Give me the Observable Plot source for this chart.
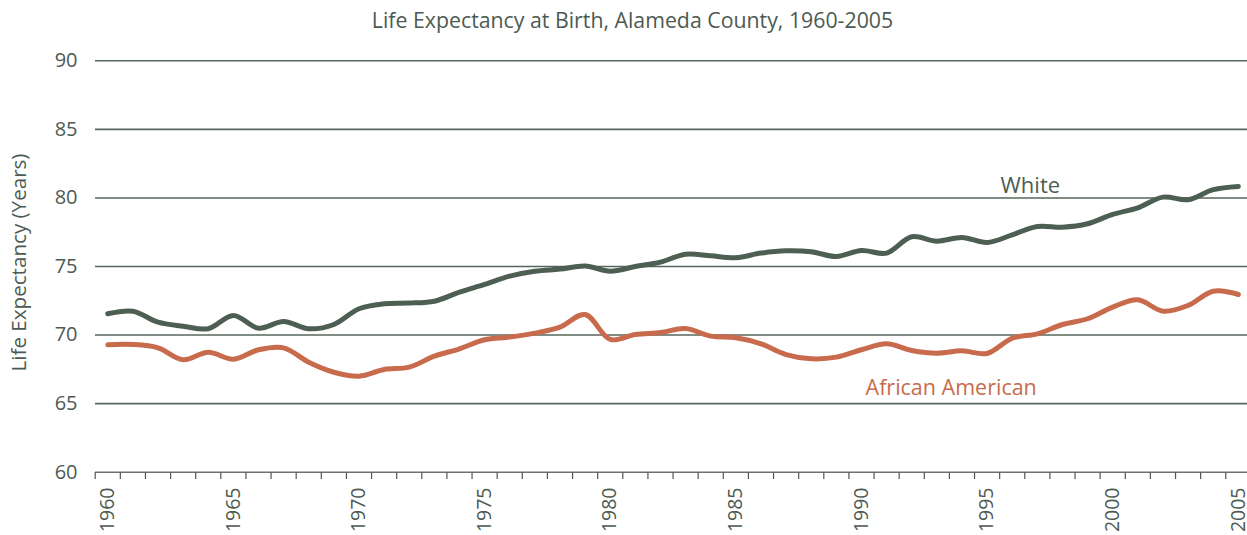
<!DOCTYPE html>
<html>
<head>
<meta charset="utf-8">
<script src="https://cdn.jsdelivr.net/npm/d3@7"></script>
<script src="https://cdn.jsdelivr.net/npm/@observablehq/plot@0.6"></script>
<style>
  html, body { margin: 0; padding: 0; background: #fff; overflow: hidden; }
  #title { height: 40px; line-height: 40px; text-align: center; font-family: "Open Sans", sans-serif; font-size: 21.3px; color: #4d5a52; padding-left: 18px; white-space: nowrap; }
  #chart svg { display: block; overflow: visible; }
</style>
</head>
<body>
<div id="title">Life Expectancy at Birth, Alameda County, 1960-2005</div>
<div id="chart"></div>
<script>
const years = [1960,1961,1962,1963,1964,1965,1966,1967,1968,1969,1970,1971,1972,1973,1974,1975,1976,1977,1978,1979,1980,1981,1982,1983,1984,1985,1986,1987,1988,1989,1990,1991,1992,1993,1994,1995,1996,1997,1998,1999,2000,2001,2002,2003,2004,2005];
const white = [71.55,71.74,70.94,70.65,70.46,71.43,70.5,70.99,70.46,70.77,71.92,72.28,72.33,72.47,73.13,73.69,74.3,74.66,74.81,75.03,74.66,75.0,75.32,75.9,75.78,75.64,75.98,76.15,76.08,75.73,76.17,75.98,77.17,76.85,77.12,76.75,77.31,77.92,77.87,78.12,78.8,79.28,80.06,79.87,80.6,80.84];
const africanAmerican = [69.29,69.31,69.07,68.2,68.75,68.24,68.93,69.07,68.02,67.29,67.0,67.49,67.66,68.46,69.0,69.66,69.85,70.14,70.58,71.5,69.68,70.04,70.19,70.48,69.92,69.8,69.36,68.58,68.27,68.39,68.93,69.36,68.88,68.68,68.85,68.66,69.77,70.09,70.77,71.19,72.04,72.57,71.74,72.16,73.2,72.96];
const yTicks = [60,65,70,75,80,85,90];
const gridValues = [65,70,75,80,85,90];
const xLabelYears = [1960,1965,1970,1975,1980,1985,1990,1995,2000,2005];
const seriesNames = ["White","African American"];

const cWhite = "#4d5e52";
const cAA = "#c76b4c";
const textColor = "#4d5a52";

const rows = [];
years.forEach((yr, i) => {
  rows.push({year: yr, value: white[i], series: seriesNames[0]});
  rows.push({year: yr, value: africanAmerican[i], series: seriesNames[1]});
});
const boundaries = years.map(y => y - 0.5);

const chart = Plot.plot({
  width: 1247,
  height: 495,
  marginLeft: 95,
  marginRight: 0,
  marginTop: 20,
  marginBottom: 63,
  style: {fontFamily: "'Open Sans', sans-serif", color: textColor, background: "#fff"},
  x: {domain: [1959.5, 2005.5], range: [94.7, 1250.4], label: null},
  y: {domain: [60, 90], range: [431.7, 20.3], label: null},
  marks: [
    Plot.ruleY(gridValues, {stroke: "#56665b", strokeWidth: 1.6}),
    Plot.ruleY([60], {stroke: "#707070", strokeWidth: 1.4}),
    Plot.axisX({ticks: boundaries, tickFormat: () => "", tickSize: 7, stroke: "#555", strokeWidth: 1.2, label: null}),
    Plot.axisX({ticks: xLabelYears, tickFormat: "d", tickSize: 0, tickRotate: -90, tickPadding: 15, fontSize: 19.5, fill: textColor, label: null}),
    Plot.axisY({ticks: yTicks, tickSize: 0, tickPadding: 18, fontSize: 20, fill: textColor, label: null}),
    Plot.text(["Life Expectancy (Years)"], {frameAnchor: "left", textAnchor: "middle", rotate: -90, dx: -76, dy: -4, fontSize: 20.6, fill: textColor}),
    Plot.line(rows, {x: "year", y: "value", z: "series", stroke: d => d.series === seriesNames[0] ? cWhite : cAA, strokeWidth: 5, curve: "catmull-rom"}),
    Plot.text([seriesNames[0]], {x: 1996.72, y: 80.91, text: d => d, fontSize: 22, fill: cWhite}),
    Plot.text([seriesNames[1]], {x: 1993.57, y: 66.1, text: d => d, fontSize: 21.5, fill: cAA})
  ]
});
document.getElementById("chart").appendChild(chart);
</script>
</body>
</html>
